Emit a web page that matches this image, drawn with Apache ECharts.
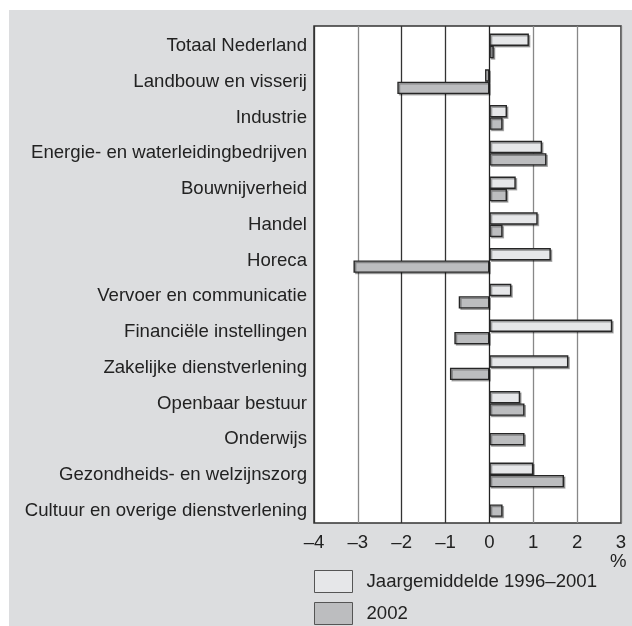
<!DOCTYPE html>
<html>
<head>
<meta charset="utf-8">
<script src="https://cdn.jsdelivr.net/npm/echarts@6/dist/echarts.min.js"></script>
<style>
html,body{margin:0;padding:0;background:#fff;}
#chart{width:632px;height:626px;}
</style>
</head>
<body>
<div id="chart"></div>
<script>
const categories = [
  'Totaal Nederland',
  'Landbouw en visserij',
  'Industrie',
  'Energie- en waterleidingbedrijven',
  'Bouwnijverheid',
  'Handel',
  'Horeca',
  'Vervoer en communicatie',
  'Financiële instellingen',
  'Zakelijke dienstverlening',
  'Openbaar bestuur',
  'Onderwijs',
  'Gezondheids- en welzijnszorg',
  'Cultuur en overige dienstverlening'
];
const jaargemiddelde = [0.9, -0.1, 0.4, 1.2, 0.6, 1.1, 1.4, 0.5, 2.8, 1.8, 0.7, null, 1.0, null];
const jaar2002 = [0.1, -2.1, 0.3, 1.3, 0.4, 0.3, -3.1, -0.7, -0.8, -0.9, 0.8, 0.8, 1.7, 0.3];
const xTicks = [-4, -3, -2, -1, 0, 1, 2, 3];
const seriesNames = ['Jaargemiddelde 1996–2001', '2002'];

// rows that only have the 2002 value are drawn centred on their own axis
const pairedDark = jaar2002.map((v, i) => jaargemiddelde[i] === null ? null : v);
const singleDark = jaar2002.map((v, i) => jaargemiddelde[i] === null ? v : null);

const FONT = 'Liberation Sans, Arial, Helvetica, sans-serif';
const TXT = '#222';
const FS = 18.6;
const lightFill = '#e6e7e9';
const darkFill = '#bcbdbf';
const barBorder = {
  borderColor: '#262626',
  borderWidth: 1.4,
  shadowColor: 'rgba(0,0,0,0.3)',
  shadowBlur: 0,
  shadowOffsetX: 1.5,
  shadowOffsetY: 1.5
};

const chart = echarts.init(document.getElementById('chart'), null, {renderer: 'canvas'});
const option = {
  backgroundColor: '#ffffff',
  animation: false,
  textStyle: {fontFamily: FONT},
  graphic: [
    {type: 'rect', z: -10, shape: {x: 9, y: 10, width: 623, height: 616}, style: {fill: '#dcdddf'}},
    {type: 'text', z: 10, left: 610, top: 552, style: {text: '%', fontSize: FS, fontFamily: FONT, fill: TXT}}
  ],
  legend: {
    data: seriesNames,
    orient: 'vertical',
    left: 314,
    top: 570,
    padding: 0,
    height: 60,
    itemWidth: 38,
    itemHeight: 22,
    itemGap: 9,
    icon: 'rect',
    selectedMode: false,
    itemStyle: {borderColor: '#555', borderWidth: 1, shadowBlur: 0, shadowOffsetX: 0, shadowOffsetY: 0, shadowColor: 'rgba(0,0,0,0)'},
    textStyle: {fontSize: FS, color: TXT, fontFamily: FONT, padding: [0, 0, 0, 9]}
  },
  grid: [
    {left: 314, right: 11, top: 26, bottom: 103, show: true, backgroundColor: '#ffffff', borderColor: '#333', borderWidth: 1.5},
    {left: 314, right: 11, top: 28, height: 500.5}
  ],
  xAxis: [
    {
      gridIndex: 0, type: 'value', min: -4, max: 3, interval: 1,
      axisLine: {show: false}, axisTick: {show: false},
      axisLabel: {
        fontSize: FS, color: TXT, fontFamily: FONT, margin: 10,
        formatter: v => String(v).replace('-', '–')
      },
      splitLine: {show: true, lineStyle: {width: 1.3, color: ['#333', '#888', '#333', '#333', '#222', '#888', '#888', '#777']}}
    },
    {gridIndex: 1, type: 'value', min: -4, max: 3, interval: 1, show: false, splitLine: {show: false}}
  ],
  yAxis: [
    {gridIndex: 0, type: 'value', show: false, splitLine: {show: false}},
    {
      gridIndex: 1, type: 'category', data: categories, inverse: true,
      axisLine: {show: false}, axisTick: {show: false},
      axisLabel: {fontSize: FS, color: TXT, fontFamily: FONT, margin: 7}
    },
    {gridIndex: 1, type: 'category', data: categories, inverse: true, show: false}
  ],
  series: [
    {
      name: seriesNames[0], type: 'bar', xAxisIndex: 1, yAxisIndex: 1,
      data: jaargemiddelde, barWidth: 12.4, barGap: '0%',
      itemStyle: Object.assign({color: lightFill}, barBorder)
    },
    {
      name: seriesNames[1], type: 'bar', xAxisIndex: 1, yAxisIndex: 1,
      data: pairedDark, barWidth: 12.4, barGap: '0%',
      itemStyle: Object.assign({color: darkFill}, barBorder)
    },
    {
      name: seriesNames[1], type: 'bar', xAxisIndex: 1, yAxisIndex: 2,
      data: singleDark, barWidth: 12.4,
      itemStyle: Object.assign({color: darkFill}, barBorder)
    }
  ]
};
chart.setOption(option);
</script>
</body>
</html>
